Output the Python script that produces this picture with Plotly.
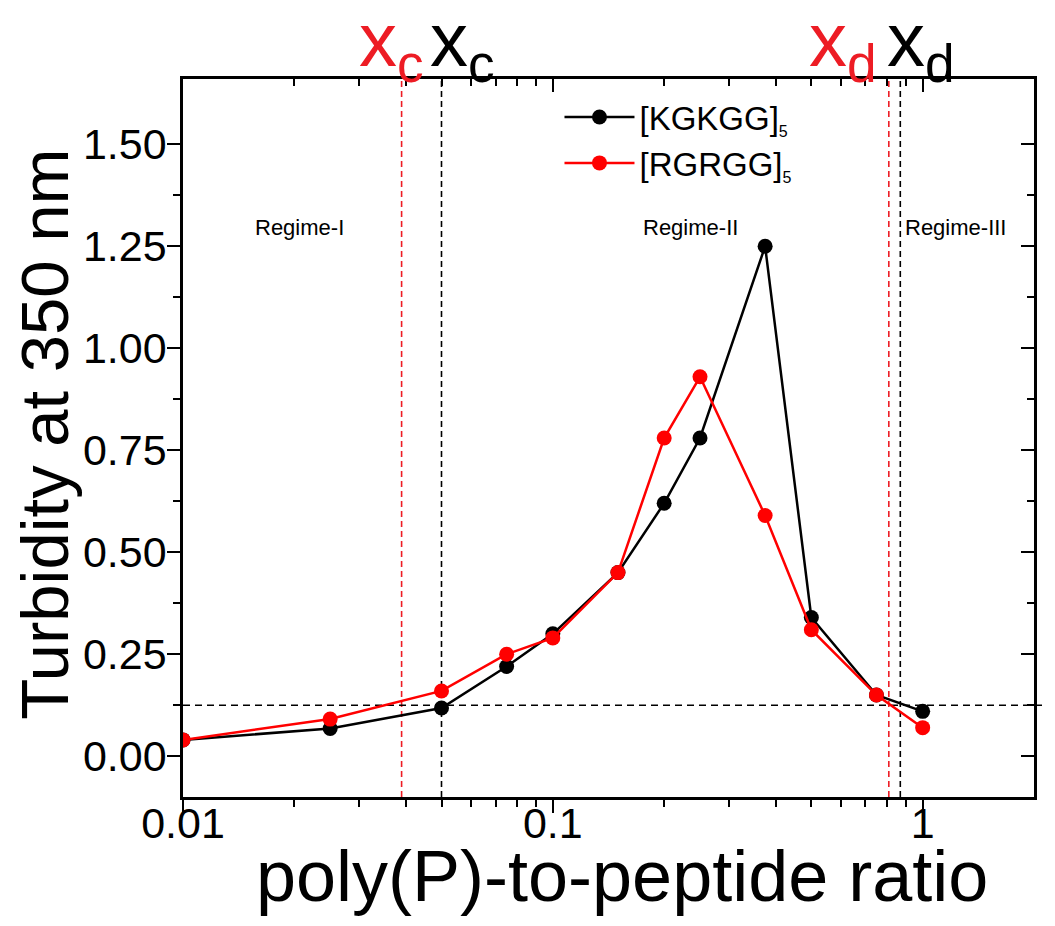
import plotly.graph_objects as go

# ---- data ----
ratio = [0.01, 0.025, 0.05, 0.075, 0.1, 0.15, 0.2, 0.25, 0.375, 0.5, 0.75, 1.0]
kgkgg = [0.04, 0.068, 0.118, 0.22, 0.30, 0.45, 0.62, 0.78, 1.25, 0.34, 0.15, 0.11]
rgrgg = [0.04, 0.091, 0.16, 0.25, 0.29, 0.45, 0.78, 0.93, 0.59, 0.31, 0.15, 0.07]

xc_red, xc_black = 0.039, 0.05
xd_red, xd_black = 0.81, 0.87
baseline = 0.125

x_tickvals = [0.01, 0.1, 1]
x_ticktext = ["0.01", "0.1", "1"]
x_minor = [0.02, 0.03, 0.04, 0.05, 0.06, 0.07, 0.08, 0.09,
           0.2, 0.3, 0.4, 0.5, 0.6, 0.7, 0.8, 0.9]
y_tickvals = [0, 0.25, 0.5, 0.75, 1.0, 1.25, 1.5]
y_ticktext = ["0.00", "0.25", "0.50", "0.75", "1.00", "1.25", "1.50"]
y_minor = [0.125, 0.375, 0.625, 0.875, 1.125, 1.375]

x_range = [-2, 0.30103]   # log10(0.01) .. log10(2)
y_range = [-0.1, 1.66]

FONT = "Arial, 'Liberation Sans', sans-serif"
RED = "#FF0000"
RED2 = "#ED1C24"

# the page body has an 8px margin: shrink the figure to keep the plot area in place
PAGE_PAD = 8

fig = go.Figure()
fig.add_trace(go.Scatter(x=ratio, y=kgkgg, mode="lines+markers",
                         name="[KGKGG]<sub><span style='font-size:16px'>5</span></sub>",
                         line=dict(color="black", width=2.5),
                         marker=dict(color="black", size=15)))
# second series lives on the mirrored (top/right) axes, which share identical ranges
fig.add_trace(go.Scatter(x=ratio, y=rgrgg, mode="lines+markers", xaxis="x2", yaxis="y2",
                         name="[RGRGG]<sub><span style='font-size:16px'>5</span></sub>",
                         line=dict(color=RED, width=2.5),
                         marker=dict(color=RED, size=15)))

# dashed guide lines
for xv, col in [(xc_red, RED2), (xc_black, "black"), (xd_red, RED2), (xd_black, "black")]:
    fig.add_shape(type="line", xref="x", yref="paper", x0=xv, x1=xv, y0=0, y1=1,
                  line=dict(color=col, width=1.6, dash="6px,4px"), layer="below")
fig.add_shape(type="line", xref="paper", yref="y", x0=0, x1=1.022, y0=baseline, y1=baseline,
              line=dict(color="black", width=1.6, dash="7px,5px"), layer="below")

common_x = dict(type="log", range=x_range, showgrid=False, zeroline=False,
                showline=True, linecolor="black", linewidth=2.5, automargin=False,
                tickmode="array", tickvals=x_tickvals, ticktext=x_ticktext,
                ticklen=13, tickwidth=2, tickcolor="black")
common_y = dict(range=y_range, showgrid=False, zeroline=False,
                showline=True, linecolor="black", linewidth=2.5, automargin=False,
                tickmode="array", tickvals=y_tickvals, ticktext=y_ticktext,
                ticklen=13, tickwidth=2, tickcolor="black")

fig.update_layout(
    width=1055 - PAGE_PAD, height=926 - PAGE_PAD,
    margin=dict(l=183 - PAGE_PAD, r=21, t=79 - PAGE_PAD, b=129),
    paper_bgcolor="white", plot_bgcolor="white",
    font=dict(family=FONT, color="black"),
    showlegend=True,
    legend=dict(x=0.4424, y=0.986, xanchor="left", yanchor="top",
                font=dict(size=33, family=FONT), bgcolor="rgba(0,0,0,0)",
                itemwidth=70, tracegroupgap=0),
    xaxis=dict(**common_x, ticks="outside", ticklabelstandoff=-26, mirror=True,
               tickfont=dict(size=43, family=FONT),
               minor=dict(tickvals=x_minor, ticks="outside", ticklen=7, tickwidth=2,
                          tickcolor="black", showgrid=False)),
    yaxis=dict(**common_y, ticks="outside", ticklabelstandoff=-8, mirror=True,
               tickfont=dict(size=43, family=FONT),
               minor=dict(tickvals=y_minor, ticks="outside", ticklen=7, tickwidth=2,
                          tickcolor="black", showgrid=False)),
    xaxis2=dict(**common_x, overlaying="x", side="top", anchor="y2", ticks="inside",
                showticklabels=False,
                minor=dict(tickvals=x_minor, ticks="inside", ticklen=7, tickwidth=2,
                           tickcolor="black", showgrid=False)),
    yaxis2=dict(**common_y, overlaying="y", side="right", anchor="x2", ticks="inside",
                showticklabels=False,
                minor=dict(tickvals=y_minor, ticks="inside", ticklen=7, tickwidth=2,
                           tickcolor="black", showgrid=False)),
)

# axis titles
fig.add_annotation(text="poly(P)-to-peptide ratio", xref="paper", yref="paper",
                   x=0.5156, y=-0.110, showarrow=False, xanchor="center", yanchor="middle",
                   font=dict(size=72, family=FONT, color="black"))
fig.add_annotation(text="Turbidity at 350 nm", xref="paper", yref="paper",
                   x=-0.163, y=0.505, showarrow=False, xanchor="center", yanchor="middle",
                   textangle=-90, font=dict(size=67, family=FONT, color="black"))

# regime labels
for txt, px in [("Regime-I", 0.137), ("Regime-II", 0.596), ("Regime-III", 0.908)]:
    fig.add_annotation(text=txt, xref="paper", yref="paper", x=px, y=0.7925,
                       showarrow=False, font=dict(size=22, family=FONT, color="black"),
                       xanchor="center", yanchor="middle")

# threshold labels above the plot
for txt, px, col in [("x<sub>c</sub>", 0.245, RED2), ("x<sub>c</sub>", 0.3286, "black"),
                     ("x<sub>d</sub>", 0.7754, RED2), ("x<sub>d</sub>", 0.8671, "black")]:
    fig.add_annotation(text=txt, xref="paper", yref="paper", x=px, y=1.047,
                       showarrow=False, font=dict(size=76, family=FONT, color=col),
                       xanchor="center", yanchor="middle")

fig.write_html("out.html")
